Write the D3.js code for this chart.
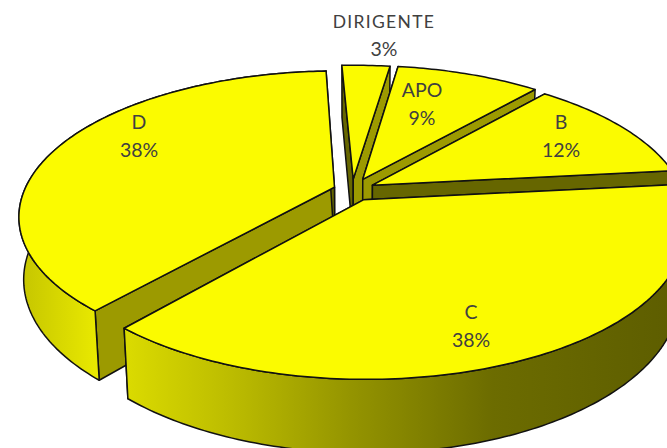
<!DOCTYPE html>
<html><head><meta charset="utf-8">
<script src="https://cdn.jsdelivr.net/npm/d3@7"></script>
<style>html,body{margin:0;padding:0;background:#fff}svg{display:block}</style>
</head><body><svg id="c" width="667" height="448"></svg>
<script>
const categories = ["DIRIGENTE","APO","B","C","D"];
const shares = [3,9,12,38,38];
const percentLabels = ["3%","9%","12%","38%","38%"];

// Layout / camera settings (separate from data)
const W=667,H=448;
const cam={cx:352,cy:190,B:310,A:140,p:0.196,q:0.014,wall:62};
const rot=-2.5*Math.PI/180;
const explode=[0.08,0.085,0.075,0.078,0.06];
const rimLimit=[0.1,0.1,0.1,0.1,1.01];
const labelAnchor=[[384,35],[422,104],[561,136],[471,326],[139,136]];
const endWall=["#9c9a00","#9c9a00","#666600","#666600","#666600"];
const startWall=["#666600","#9c9a00","#9c9a00","#9c9a00","#9c9a00"];
const drawOrder=[0,1,2,4,3];

const svg=d3.select("#c");
const defs=svg.append("defs");
function grad(id,x1,x2,stops){
  const g=defs.append("linearGradient").attr("id",id).attr("gradientUnits","userSpaceOnUse")
    .attr("x1",x1).attr("x2",x2).attr("y1",0).attr("y2",0);
  stops.forEach(s=>g.append("stop").attr("offset",s[0]).attr("stop-color",s[1]));
}
grad("rimC",122,667,[[0,"#dcdc00"],[.2,"#bcbc00"],[.42,"#949400"],[.68,"#6c6c00"],[1,"#5e5e00"]]);
grad("rimD",18,95,[[0,"#c4c400"],[1,"#e8e800"]]);
const rimFill=["#9c9a00","#9c9a00","#666600","url(#rimC)","url(#rimD)"];

function proj(u,v,z){
  const s=1/(1-cam.p*v+cam.q*z);
  return [cam.cx+cam.B*u*s, cam.cy+(cam.A*v+cam.wall*z)*s];
}
const arcs=d3.pie().sort(null).startAngle(rot).endAngle(rot+2*Math.PI)(shares);
const poly=d3.line();
const face=(pts,fill)=>svg.append("path").attr("d",poly(pts)+"Z").attr("fill",fill)
  .attr("stroke","#111").attr("stroke-width",1.5).attr("stroke-linejoin","round");

drawOrder.forEach(i=>{
  const a=arcs[i], mid=(a.startAngle+a.endAngle)/2;
  const ox=Math.sin(mid)*explode[i], oy=-Math.cos(mid)*explode[i];
  const P=(ang,r,z)=>proj(ox+r*Math.sin(ang),oy-r*Math.cos(ang),z);
  const angs=d3.range(0,1.0001,1/Math.max(8,Math.round((a.endAngle-a.startAngle)*60)))
    .map(t=>a.startAngle+t*(a.endAngle-a.startAngle));
  const front=angs.filter(t=>Math.cos(t)<rimLimit[i]);
  face([P(a.startAngle,0,0),P(a.startAngle,1,0),P(a.startAngle,1,1),P(a.startAngle,0,1)],startWall[i]);
  face([P(a.endAngle,0,0),P(a.endAngle,1,0),P(a.endAngle,1,1),P(a.endAngle,0,1)],endWall[i]);
  if(front.length>1) face(front.map(t=>P(t,1,0)).concat(front.slice().reverse().map(t=>P(t,1,1))),rimFill[i]);
  face([P(0,0,0)].concat(angs.map(t=>P(t,1,0))),"#fbfb00");
});

categories.forEach((c,i)=>{
  const p=labelAnchor[i];
  const t=svg.append("text").attr("text-anchor","middle").attr("fill","#404040")
    .attr("font-family","Lato, 'Open Sans', sans-serif").attr("font-size",19.5);
  t.append("tspan").attr("x",p[0]).attr("y",p[1]-7).attr("letter-spacing",c==="DIRIGENTE"?1.3:0).attr("font-size",c==="DIRIGENTE"?17.5:19.5).text(c);
  t.append("tspan").attr("x",p[0]).attr("y",p[1]+21).text(percentLabels[i]);
});
</script></body></html>
